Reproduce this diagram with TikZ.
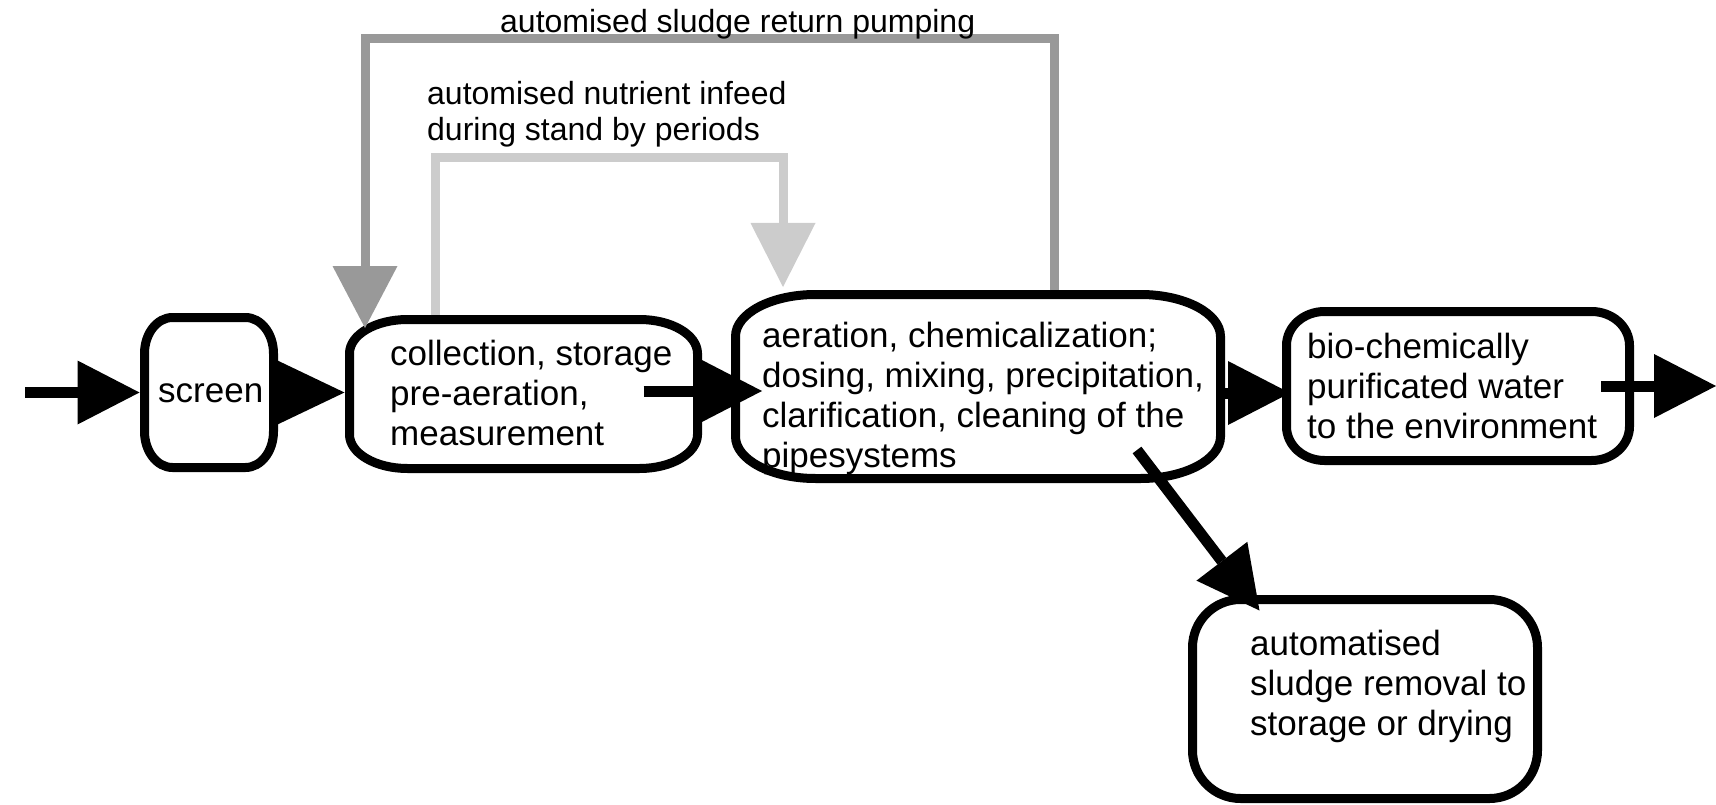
\documentclass[tikz,border=0pt]{standalone}
\usepackage{fontspec}
\setmainfont{Liberation Sans}
\usetikzlibrary{arrows.meta,calc}
\definecolor{dgray}{RGB}{153,153,153}
\definecolor{lgray}{RGB}{204,204,204}
\newcommand\ebox[3]{%
  \draw[boxline] ($(#1.north west)+(#2,0)$) -- ($(#1.north east)+(-#2,0)$)
    arc[start angle=90,end angle=0,x radius=#2pt,y radius=#3pt]
    -- ($(#1.south east)+(0,-#3)$)
    arc[start angle=0,end angle=-90,x radius=#2pt,y radius=#3pt]
    -- ($(#1.south west)+(#2,0)$)
    arc[start angle=270,end angle=180,x radius=#2pt,y radius=#3pt]
    -- ($(#1.north west)+(0,#3)$)
    arc[start angle=180,end angle=90,x radius=#2pt,y radius=#3pt]
    -- cycle;}
\begin{document}
\begin{tikzpicture}[x=1pt,y=-1pt,
  box/.style 2 args={rectangle,inner sep=0pt,outer sep=0pt,minimum width=#1pt,minimum height=#2pt},
  boxline/.style={line width=9pt,draw=black,fill=white},
  barr/.style={line width=11pt,draw=black,-{Triangle[length=62pt,width=64pt,line width=0pt]}},
  barrlong/.style={line width=11pt,draw=black,-{Triangle[length=67pt,width=64pt,line width=0pt]}},
  darr/.style={line width=9pt,draw=dgray,-{Triangle[length=62pt,width=65pt,line width=0pt]}},
  larr/.style={line width=9pt,draw=lgray,-{Triangle[length=64pt,width=65pt,line width=0pt]}},
  boxtext/.style={anchor=base west,inner sep=0pt,font=\fontsize{35pt}{40pt}\selectfont},
  labeltext/.style={anchor=base west,inner sep=0pt,font=\fontsize{32pt}{36pt}\selectfont}]
\useasboundingbox (0,0) rectangle (1716,805);
% boxes
\node[box={129}{150}] (screen) at (209,392.5) {};
\node[box={348}{149}] (coll) at (523.5,394) {};
\node[box={485}{184}] (aer) at (978,386.5) {};
\node[box={343}{149}] (bio) at (1458,386) {};
\node[box={345}{199}] (sludge) at (1365,699) {};
\ebox{screen}{28}{36}
\ebox{coll}{58}{34}
\ebox{aer}{80}{42}
\ebox{bio}{38}{34}
\ebox{sludge}{48}{48}
% grey feedback arrows
\draw[darr] ($(aer.north)+(76,-4.5)$) -- ++(0,-251) -| ($(coll.north west)+(15.5,8.5)$);
\draw[larr] ($(coll.north)+(-88.5,-4.5)$) -- ++(0,-157) -| ($(aer.north west)+(47.5,-7.5)$);
% black flow arrows
\coordinate (inlet) at (25,392.5);
\draw[barr] (inlet) -- ($(screen.west)+(-5,0)$);
\draw[barrlong] (screen.east) -- ($(screen.east -| coll.west)+(-5,0)$);
\coordinate (ca) at ($(coll.east)+(-54,-3)$);
\draw[barr] (ca) -- ($(ca -| aer.west)+(26.5,0)$);
\coordinate (ab) at ($(aer.east)+(-3,6.5)$);
\draw[barr] (ab) -- ($(ab -| bio.west)+(3.5,0)$);
\coordinate (bo) at ($(bio.east)+(-28.5,0)$);
\coordinate (outlet) at (1716,386);
\draw[barr] (bo) -- (outlet);
\coordinate (as) at (1137,450);
\draw[barr] (as) -- ($(sludge.north west)+(67,11)$);
% texts
\node[boxtext] (tscreen) at (158,402) {screen};
\node[boxtext] (tcoll) at (390,365) {\vtop{\hbox{collection, storage}\hbox{pre-aeration,}\hbox{measurement}}};
\node[boxtext] (taer) at (762,347) {\vtop{\hbox{aeration, chemicalization;}\hbox{dosing, mixing, precipitation,}\hbox{clarification, cleaning of the}\hbox{pipesystems}}};
\node[boxtext] (tbio) at (1307,358) {\vtop{\hbox{bio-chemically}\hbox{purificated water}\hbox{to the environment}}};
\node[boxtext] (tsludge) at (1250,655) {\vtop{\hbox{automatised}\hbox{sludge removal to}\hbox{storage or drying}}};
\node[labeltext] (lret) at (500,33) {automised sludge return pumping};
\node[labeltext] (lnut) at (427,105) {\vtop{\hbox{automised nutrient infeed}\hbox{during stand by periods}}};
\end{tikzpicture}
\end{document}
